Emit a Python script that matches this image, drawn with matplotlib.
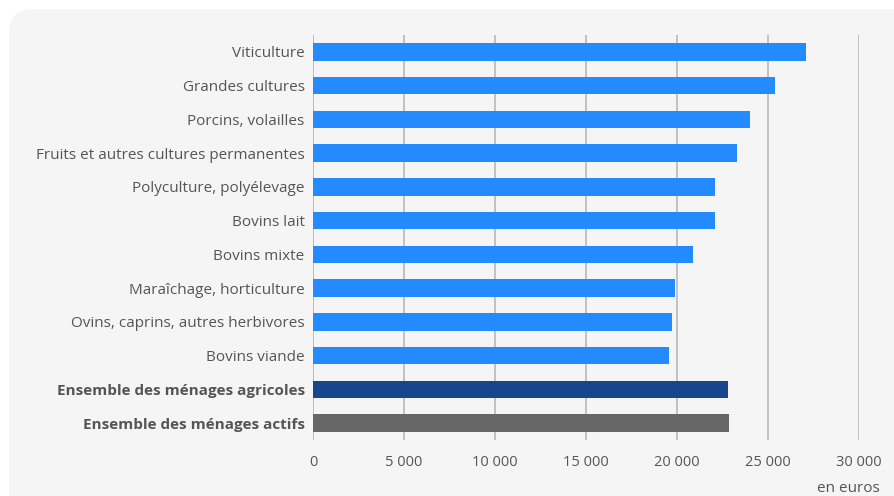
import matplotlib
matplotlib.use("Agg")
import matplotlib.pyplot as plt
from matplotlib.patches import FancyBboxPatch
from matplotlib.ticker import FuncFormatter

plt.rcParams['font.family'] = ['Open Sans', 'DejaVu Sans']

categories = [
    "Viticulture",
    "Grandes cultures",
    "Porcins, volailles",
    "Fruits et autres cultures permanentes",
    "Polyculture, polyélevage",
    "Bovins lait",
    "Bovins mixte",
    "Maraîchage, horticulture",
    "Ovins, caprins, autres herbivores",
    "Bovins viande",
    "Ensemble des ménages agricoles",
    "Ensemble des ménages actifs",
]
values = [27100, 25400, 24000, 23300, 22100, 22100, 20900, 19900, 19700, 19550, 22800, 22850]
xticks = [0, 5000, 10000, 15000, 20000, 25000, 30000]

blue = "#238bff"
dark_blue = "#17468f"
grey_bar = "#666666"
text_col = "#555555"
colors = [blue] * 10 + [dark_blue, grey_bar]

W, H = 895, 496
fig = plt.figure(figsize=(W / 100, H / 100), dpi=100)
fig.patch.set_facecolor("white")

# background: rounded light grey panel, in pixel coordinates
bg = fig.add_axes([0, 0, 1, 1], zorder=-1)
bg.set_xlim(0, W)
bg.set_ylim(H, 0)
bg.axis("off")
bg.add_patch(FancyBboxPatch((9, 9), 1000, 600,
                            boxstyle="round,pad=0,rounding_size=24",
                            facecolor="#f5f5f5", edgecolor="none"))

ax = fig.add_axes([313 / W, (H - 440) / H, (859 - 313) / W, (440 - 35) / H])
ax.set_facecolor("none")

pos = list(range(len(categories)))
ax.barh(pos, values, height=0.52, color=colors, zorder=3)
ax.set_ylim(len(categories) - 0.5, -0.5)
ax.set_xlim(0, 30000)

ax.set_xticks(xticks)
ax.xaxis.set_major_formatter(FuncFormatter(lambda v, p: f"{int(v):,}".replace(",", " ")))
ax.grid(axis="x", color="#bdbdbd", linewidth=1.3, zorder=0)
ax.axvline(0, color="#bdbdbd", linewidth=1.3, zorder=1)

ax.set_yticks(pos)
ax.set_yticklabels(categories)
for i, lab in enumerate(ax.get_yticklabels()):
    if i >= 10:
        lab.set_fontweight("bold")

ax.tick_params(axis="y", length=0, pad=6, labelsize=11, labelcolor=text_col)
ax.tick_params(axis="x", length=0, pad=11, labelsize=10.5, labelcolor=text_col)
for s in ax.spines.values():
    s.set_visible(False)

fig.text(880 / W, 1 - 488 / H, "en euros", ha="right", va="center",
         fontsize=11, color=text_col)

fig.savefig("out.png", dpi=100, facecolor=fig.get_facecolor())
